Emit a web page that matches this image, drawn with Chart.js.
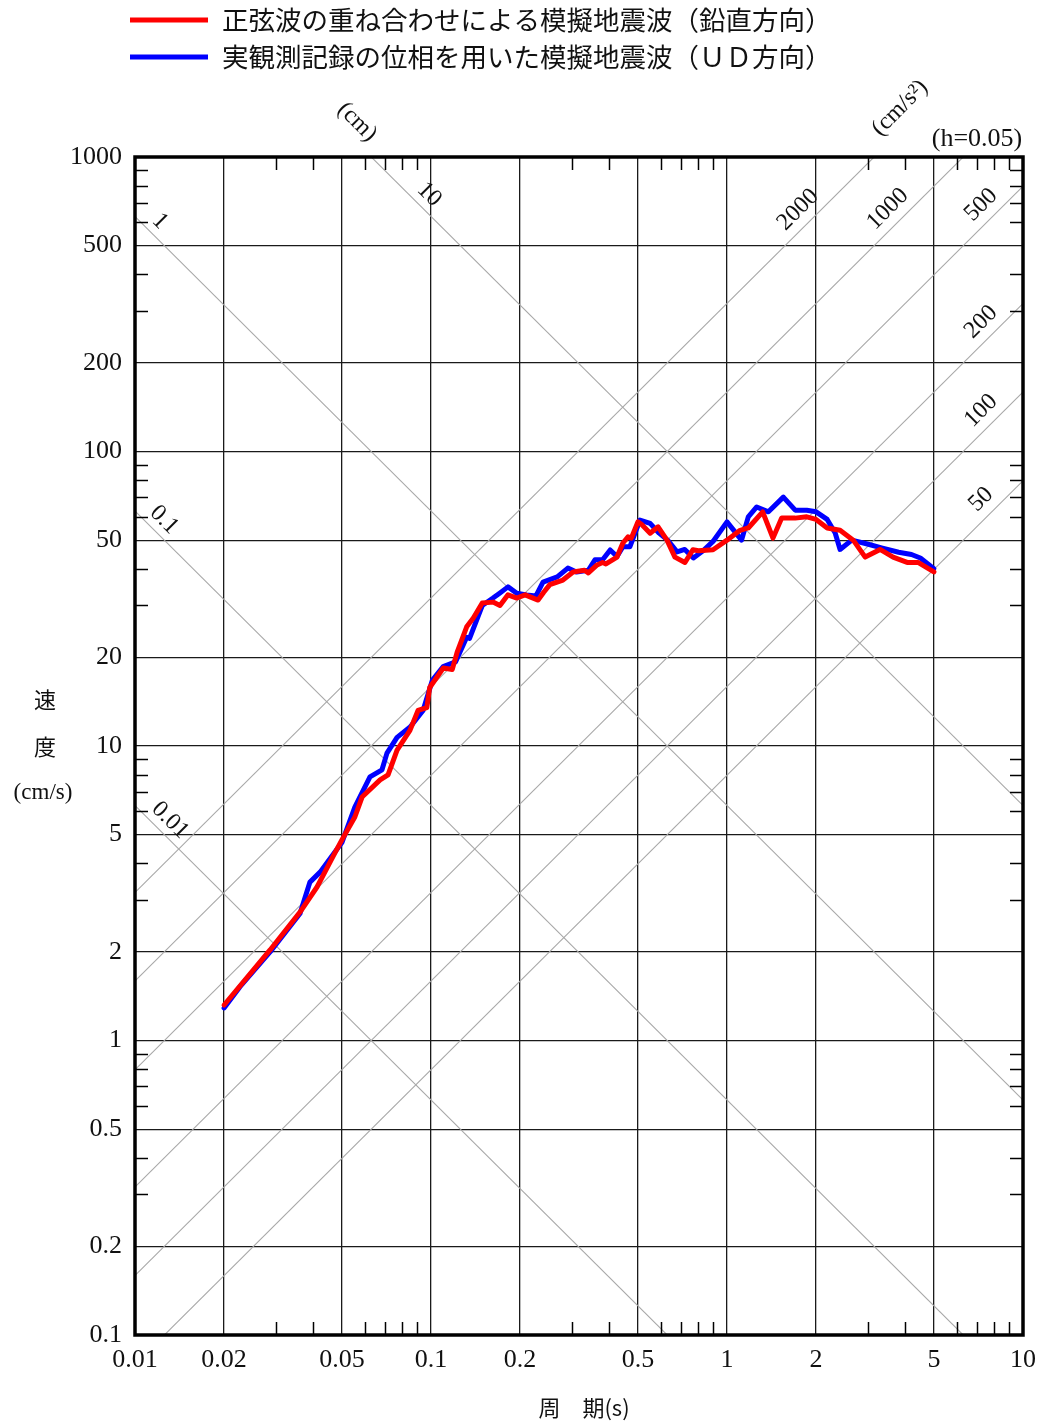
<!DOCTYPE html>
<html><head><meta charset="utf-8">
<script src="https://cdn.jsdelivr.net/npm/chart.js@4.4.1/dist/chart.umd.min.js"></script>
<style>html,body{margin:0;padding:0;background:#fff;} canvas{display:block;}</style>
</head><body>
<canvas id="c" width="1043" height="1424" style="width:1043px;height:1424px"></canvas>
<script>
// ---- data (period s, pseudo velocity cm/s) ----
const periodRed = [0.02,0.0286,0.0361,0.0412,0.0464,0.05,0.0553,0.0585,0.0673,0.0716,0.0768,0.0849,0.0904,0.0968,0.099,0.110,0.118,0.1225,0.132,0.139,0.149,0.162,0.171,0.182,0.195,0.208,0.23,0.24,0.252,0.279,0.302,0.33,0.34,0.364,0.38,0.39,0.425,0.445,0.463,0.475,0.50,0.515,0.55,0.585,0.627,0.667,0.721,0.767,0.80,0.897,1.0,1.107,1.18,1.32,1.43,1.53,1.70,1.86,2.0,2.18,2.41,2.67,2.93,3.29,3.64,4.06,4.42,5.0];
const svRed = [1.32,2.03,2.73,3.32,4.17,4.8,5.74,6.71,7.67,7.98,9.69,11.3,13.2,13.5,15.8,18.4,18.2,20.8,25.4,27.2,30.6,30.8,30.0,32.6,31.8,32.6,31.3,33.2,35.3,36.6,39.0,39.5,38.7,41.2,42.0,41.5,43.8,48.9,51.3,50.8,57.7,56.5,52.8,55.5,50.0,43.8,42.0,46.4,46.0,46.4,50.0,54,55,62.4,50.8,59.4,59.4,60,58.8,55,54,50,43.8,46.5,43.8,42,42,39];
const periodBlue = [0.02,0.0226,0.0286,0.0361,0.039,0.0422,0.05,0.0553,0.0622,0.0683,0.071,0.0768,0.085,0.094,0.101,0.110,0.121,0.132,0.135,0.149,0.162,0.171,0.182,0.195,0.21,0.226,0.239,0.267,0.29,0.31,0.34,0.358,0.38,0.403,0.425,0.445,0.47,0.508,0.55,0.59,0.63,0.678,0.72,0.77,0.83,0.897,1.0,1.12,1.18,1.26,1.38,1.55,1.70,1.86,2.0,2.18,2.32,2.41,2.64,2.98,3.35,3.8,4.2,4.5,5.0];
const svBlue = [1.29,1.52,2.0,2.7,3.45,3.73,4.7,6.2,7.85,8.3,9.46,10.7,11.6,13.2,16.7,18.6,19.3,23.4,23.2,30,31.8,33.1,34.7,33.0,32.6,32.3,36,37.5,40.2,39,39.5,42.9,42.9,46.3,44,47.5,47.5,58.5,57,52.8,50,45.6,46.5,43.5,46,49.5,57.7,50,60,64.8,62.4,70,63.2,63.2,62.4,58.8,52.9,46.5,50,48.5,47,45.5,44.7,43.5,40];
const seriesNames = ['正弦波の重ね合わせによる模擬地震波（鉛直方向）','実観測記録の位相を用いた模擬地震波（ＵＤ方向）'];
const seriesColors = ['#ff0000','#0000ff'];
const xTickValues = [0.01,0.02,0.05,0.1,0.2,0.5,1,2,5,10];
const yTickValues = [0.1,0.2,0.5,1,2,5,10,20,50,100,200,500,1000];
const dispLines = [0.01,0.1,1,10];            // displacement, cm
const dispLabelT = [0.01293,0.01234,0.01196,0.097];
const accLines = [50,100,200,500,1000,2000];  // acceleration, cm/s2
const accLabelT = [7.33,7.33,7.33,7.33,3.55,1.765];
const xTitle = '周　期(s)';
const yTitleParts = ['速','度','(cm/s)'];

const SERIF = '"Liberation Serif", "DejaVu Serif", serif';
const CJK = '"Noto Sans CJK JP", sans-serif';
const TWO_PI = 2*Math.PI;

function minorVals(min, max){
  const out=[];
  for(let d=min; d<max*0.999; d*=10){
    for(const m of [3,4,6,7,8,9]){ const v=d*m; if(v<max*0.999) out.push(v); }
  }
  return out;
}

const decorPlugin = {
  id:'decor',
  beforeDatasetsDraw(chart){
    const {ctx, chartArea:a, scales:{x,y}} = chart;
    ctx.save();
    ctx.beginPath(); ctx.rect(a.left,a.top,a.right-a.left,a.bottom-a.top); ctx.clip();
    ctx.strokeStyle='#a8a8a8'; ctx.lineWidth=1.1;
    for(const D of dispLines){
      const t1=0.001,t2=100;
      ctx.beginPath();
      ctx.moveTo(x.getPixelForValue(t1), y.getPixelForValue(TWO_PI*D/t1));
      ctx.lineTo(x.getPixelForValue(t2), y.getPixelForValue(TWO_PI*D/t2));
      ctx.stroke();
    }
    for(const A of accLines){
      const t1=0.001,t2=100;
      ctx.beginPath();
      ctx.moveTo(x.getPixelForValue(t1), y.getPixelForValue(A*t1/TWO_PI));
      ctx.lineTo(x.getPixelForValue(t2), y.getPixelForValue(A*t2/TWO_PI));
      ctx.stroke();
    }
    ctx.restore();
  },
  afterDraw(chart){
    const {ctx, chartArea:a, scales:{x,y}} = chart;
    ctx.save();
    // minor ticks
    ctx.strokeStyle='#000'; ctx.lineWidth=1.5;
    const tl=13;
    for(const v of minorVals(0.01,10)){
      const px=Math.round(x.getPixelForValue(v))+0.5;
      ctx.beginPath(); ctx.moveTo(px,a.bottom); ctx.lineTo(px,a.bottom-tl); ctx.stroke();
      ctx.beginPath(); ctx.moveTo(px,a.top); ctx.lineTo(px,a.top+tl); ctx.stroke();
    }
    for(const v of minorVals(0.1,1000)){
      const py=Math.round(y.getPixelForValue(v))+0.5;
      ctx.beginPath(); ctx.moveTo(a.left,py); ctx.lineTo(a.left+tl,py); ctx.stroke();
      ctx.beginPath(); ctx.moveTo(a.right,py); ctx.lineTo(a.right-tl,py); ctx.stroke();
    }
    // frame
    ctx.lineWidth=3.5;
    ctx.strokeRect(a.left,a.top,a.right-a.left,a.bottom-a.top);

    // diagonal labels
    ctx.fillStyle='#111';
    ctx.font='24px '+SERIF;
    ctx.textAlign='center'; ctx.textBaseline='middle';
    dispLines.forEach((D,i)=>{
      const t=dispLabelT[i];
      const px=x.getPixelForValue(t), py=y.getPixelForValue(TWO_PI*D/t);
      const px2=x.getPixelForValue(t*2), py2=y.getPixelForValue(TWO_PI*D/(t*2));
      const ang=Math.atan2(py2-py,px2-px);
      ctx.save(); ctx.translate(px+2,py-18); ctx.rotate(ang);
      ctx.fillText(String(D),0,0); ctx.restore();
    });
    accLines.forEach((A,i)=>{
      const t=accLabelT[i];
      const px=x.getPixelForValue(t), py=y.getPixelForValue(A*t/TWO_PI);
      const px2=x.getPixelForValue(t*2), py2=y.getPixelForValue(A*t*2/TWO_PI);
      const ang=Math.atan2(py2-py,px2-px);
      ctx.save(); ctx.translate(px-2,py-21); ctx.rotate(ang);
      ctx.fillText(String(A),0,0); ctx.restore();
    });
    // unit labels
    ctx.save(); ctx.translate(357,122); ctx.rotate(Math.PI/4); ctx.fillText('(cm)',0,0); ctx.restore();
    ctx.save(); ctx.translate(900,108); ctx.rotate(-Math.PI/4); ctx.fillText('(cm/s²)',0,0); ctx.restore();
    ctx.font='26px '+SERIF;
    ctx.fillText('(h=0.05)',977,139);

    // axis titles
    ctx.font='22px '+CJK;
    ctx.fillText(yTitleParts[0],45,700);
    ctx.fillText(yTitleParts[1],45,747);
    ctx.font='23px '+SERIF;
    ctx.fillText(yTitleParts[2],43,793);
    ctx.font='22px '+CJK;
    ctx.fillText(xTitle,584,1408);

    // legend
    ctx.textAlign='left';
    ctx.font='26.5px '+CJK;
    seriesNames.forEach((n,i)=>{
      const ly = 20 + i*37;
      ctx.strokeStyle=seriesColors[i]; ctx.lineWidth=5;
      ctx.beginPath(); ctx.moveTo(130,ly); ctx.lineTo(208,ly); ctx.stroke();
      ctx.fillStyle='#111';
      ctx.fillText(n,222,ly);
    });
    ctx.restore();
  }
};

const mk = (ts,vs)=>ts.map((t,i)=>({x:t,y:vs[i]}));

new Chart(document.getElementById('c'),{
  type:'line',
  data:{datasets:[
    {label:seriesNames[0],data:mk(periodRed,svRed),borderColor:seriesColors[0],borderWidth:5,pointRadius:0,tension:0,borderJoinStyle:'round',borderCapStyle:'round'},
    {label:seriesNames[1],data:mk(periodBlue,svBlue),borderColor:seriesColors[1],borderWidth:5,pointRadius:0,tension:0,borderJoinStyle:'round',borderCapStyle:'round'}
  ]},
  options:{
    responsive:false, animation:false, devicePixelRatio:1,
    layout:{padding:{top:157,right:20,bottom:0,left:0}},
    plugins:{legend:{display:false},tooltip:{enabled:false}},
    scales:{
      x:{type:'logarithmic',position:'bottom',min:0.01,max:10,
        afterBuildTicks:s=>{s.ticks=xTickValues.map(v=>({value:v}));},
        afterFit:s=>{s.height=89; s.paddingLeft=0; s.paddingRight=0;},
        grid:{color:'#1a1a1a',lineWidth:1.3,drawTicks:false},
        border:{display:false},
        ticks:{autoSkip:false,maxRotation:0,padding:10,color:'#111',font:{family:SERIF,size:26},callback:v=>String(v)}
      },
      y:{type:'logarithmic',position:'left',min:0.1,max:1000,
        afterBuildTicks:s=>{s.ticks=yTickValues.map(v=>({value:v}));},
        afterFit:s=>{s.width=135; s.paddingTop=0; s.paddingBottom=0;},
        grid:{color:'#1a1a1a',lineWidth:1.3,drawTicks:false},
        border:{display:false},
        ticks:{autoSkip:false,padding:13,color:'#111',font:{family:SERIF,size:26},callback:v=>String(v)}
      }
    }
  },
  plugins:[decorPlugin]
});
</script>
</body></html>
